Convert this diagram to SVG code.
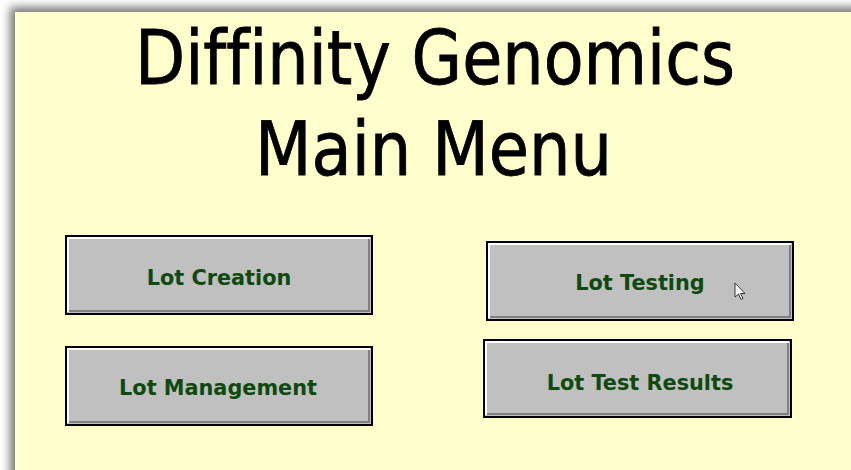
<svg xmlns="http://www.w3.org/2000/svg" width="851" height="470" viewBox="0 0 851 470">
  <defs>
    <filter id="shadow" x="-10%" y="-10%" width="120%" height="120%">
      <feGaussianBlur stdDeviation="5"/>
    </filter>
    <style>
      .title { font-family: "DejaVu Sans Condensed", "DejaVu Sans", Tahoma, sans-serif; font-size: 74px; fill: #000; stroke: #000; stroke-width: 0.8; text-anchor: middle; font-variant-ligatures: none; }
      .face { fill: #C0C0C0; stroke: #000; stroke-width: 2; }
      .hi { fill: none; stroke: #FFFFFF; stroke-width: 2; }
      .lo { fill: none; stroke: #808080; stroke-width: 2; }
      .lbl { font-family: "DejaVu Sans", Verdana, sans-serif; font-weight: bold; font-size: 20.8px; fill: #0E4A0E; text-anchor: middle; }
    </style>
  </defs>
  <rect x="0" y="0" width="851" height="470" fill="#FFFFFF"/>
  <rect x="10" y="7" width="860" height="480" fill="#777777" filter="url(#shadow)"/>
  <rect x="15" y="12" width="836" height="458" fill="#FFFFCC"/>

  <g id="title">
    <text class="title" x="435" y="84" textLength="600" lengthAdjust="spacingAndGlyphs">Diffinity Genomics</text>
    <text class="title" x="433.5" y="175" textLength="357" lengthAdjust="spacingAndGlyphs">Main Menu</text>
  </g>

  <g id="btn-lot-creation">
    <rect class="face" x="66" y="236" width="306" height="78"/>
    <polyline class="hi" points="68,312 68,238 370,238"/>
    <polyline class="lo" points="69,311 369,311 369,239"/>
    <text class="lbl" x="219" y="285">Lot Creation</text>
  </g>

  <g id="btn-lot-testing">
    <rect class="face" x="487" y="242" width="306" height="78"/>
    <polyline class="hi" points="489,318 489,244 791,244"/>
    <polyline class="lo" points="490,317 790,317 790,245"/>
    <text class="lbl" x="640" y="290">Lot Testing</text>
    <polygon points="735,283 735,297 738.5,294 741,299.5 743,298.5 740.5,293.5 745,293.5" fill="#FFFFFF" stroke="#333333" stroke-width="1" stroke-linejoin="round"/>
  </g>

  <g id="btn-lot-management">
    <rect class="face" x="66" y="347" width="306" height="78"/>
    <polyline class="hi" points="68,423 68,349 370,349"/>
    <polyline class="lo" points="69,422 369,422 369,350"/>
    <text class="lbl" x="218" y="395">Lot Management</text>
  </g>

  <g id="btn-lot-test-results">
    <rect class="face" x="484" y="340" width="307" height="77"/>
    <polyline class="hi" points="486,415 486,342 789,342"/>
    <polyline class="lo" points="487,414 788,414 788,343"/>
    <text class="lbl" x="640" y="390">Lot Test Results</text>
  </g>

  <g id="connectors"/>
</svg>
